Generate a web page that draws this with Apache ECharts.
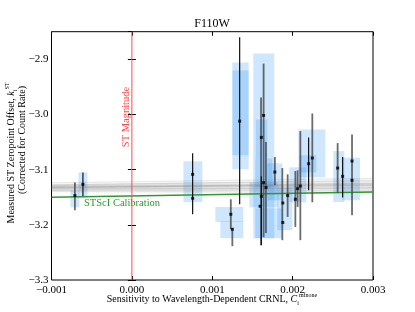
<!DOCTYPE html>
<html><head><meta charset="utf-8">
<script src="https://cdn.jsdelivr.net/npm/echarts@6/dist/echarts.min.js"></script>
<style>html,body{margin:0;padding:0;background:#fff}#c{width:415px;height:312px}</style>
</head><body><div id="c"></div>
<script>
const X_MIN = -0.001, X_MAX = 0.003, Y_MIN = -3.3, Y_MAX = -2.85;
const X_STEP = 0.001, Y_STEP = 0.1;

// measured points [x, y]
const points = [
  [-0.000709, -3.1470], [-0.000609, -3.1266],
  [0.000756, -3.1085], [0.000756, -3.1519],
  [0.001231, -3.1808], [0.001250, -3.2080],
  [0.001341, -3.0121],
  [0.001639, -3.0018], [0.001611, -3.0416], [0.001639, -3.1235], [0.001669, -3.1325],
  [0.001611, -3.1483], [0.001595, -3.1664],
  [0.001779, -3.1043], [0.001878, -3.1604], [0.001878, -3.1958], [0.001938, -3.1470],
  [0.002034, -3.1537], [0.002062, -3.1344], [0.002096, -3.1297],
  [0.002199, -3.0892], [0.002245, -3.0790],
  [0.002560, -3.0971], [0.002622, -3.1121], [0.002739, -3.0844], [0.002739, -3.1193]
];

// uncertainty boxes [x0, x1, y0, y1]
const boxes = [
  [-0.000765, -0.000653, -3.1374, -3.1682],
  [-0.000665, -0.000553, -3.1049, -3.1501],
  [0.000641, 0.000877, -3.0850, -3.1591],
  [0.001039, 0.001387, -3.1676, -3.1948],
  [0.001101, 0.001387, -3.1935, -3.2242],
  [0.001250, 0.001453, -2.9060, -3.0741],
  [0.001250, 0.001453, -2.9204, -3.0995],
  [0.001511, 0.001772, -2.8897, -3.2242],
  [0.001542, 0.001685, -3.0090, -3.0796],
  [0.001536, 0.001748, -3.0796, -3.1320],
  [0.001685, 0.001872, -3.0886, -3.1555],
  [0.001461, 0.001822, -3.1230, -3.1682],
  [0.001536, 0.001872, -3.1700, -3.2242],
  [0.001810, 0.001996, -3.1320, -3.2098],
  [0.001959, 0.002170, -3.0958, -3.1591],
  [0.002071, 0.002407, -3.0271, -3.1139],
  [0.002083, 0.002295, -3.0741, -3.1049],
  [0.002506, 0.002643, -3.0664, -3.1586],
  [0.002618, 0.002838, -3.0783, -3.1555]
];

// error bars [x, yTop, yBottom, style(1 = black, 0 = grey)]
const errbars = [
  [-0.000709, -3.1230, -3.1736, 0],
  [-0.000609, -3.1054, -3.1477, 1],
  [0.000756, -3.0705, -3.1808, 1],
  [0.001231, -3.1537, -3.2080, 0],
  [0.001250, -3.2062, -3.2387, 0],
  [0.001341, -2.8602, -3.1627, 1],
  [0.001607, -2.9693, -3.2369, 0],
  [0.001611, -3.1121, -3.2369, 1],
  [0.001639, -2.9078, -3.2224, 0],
  [0.001668, -3.0501, -3.2146, 0],
  [0.001779, -3.0772, -3.1284, 0],
  [0.001872, -3.0971, -3.2278, 0],
  [0.001938, -3.1085, -3.1857, 0],
  [0.002034, -3.1025, -3.2038, 0],
  [0.002062, -3.1013, -3.1676, 0],
  [0.002096, -3.0302, -3.2278, 0],
  [0.002199, -3.0416, -3.1374, 1],
  [0.002245, -2.9982, -3.1591, 0],
  [0.002560, -3.0519, -3.1423, 0],
  [0.002622, -3.0772, -3.1506, 1],
  [0.002739, -3.0362, -3.1826, 0]
];

// posterior fit lines: value at left edge and right edge
const bandLeft  = [-3.124, -3.127, -3.129, -3.130, -3.131, -3.133, -3.132, -3.134, -3.135, -3.136, -3.133, -3.138, -3.128, -3.131, -3.137, -3.140];
const bandRight = [-3.116, -3.121, -3.124, -3.126, -3.127, -3.130, -3.128, -3.132, -3.134, -3.133, -3.125, -3.138, -3.119, -3.129, -3.136, -3.141];

// STScI calibration line
const calibLine = [[X_MIN, -3.1500], [X_MAX, -3.1405]];
const stMagLine = [[0, Y_MIN], [0, Y_MAX]];

const SERIF = '"Liberation Serif","DejaVu Serif",serif';
const minus = s => s.replace('-', '\u2212');
const fmtX = v => { if (Math.abs(v) < 1e-12) v = 0; return minus(v.toFixed(3)); };
const fmtY = v => Math.abs(v * 10 - Math.round(v * 10)) < 1e-6 ? minus(v.toFixed(1)) : '';

const chart = echarts.init(document.getElementById('c'), null, {renderer: 'canvas'});

const baseX = {type: 'value', min: X_MIN, max: X_MAX, interval: X_STEP, splitLine: {show: false},
  axisLine: {show: false}, axisTick: {inside: true, length: 4, lineStyle: {color: '#000', width: 1}}};
const baseY = {type: 'value', min: Y_MIN, max: Y_MAX, interval: Y_STEP, splitLine: {show: false},
  axisLine: {show: false}, axisTick: {inside: true, length: 4, lineStyle: {color: '#000', width: 1}}};

chart.setOption({
  animation: false,
  grid: {left: 51.5, right: 42, top: 31.7, bottom: 32, show: true, borderColor: '#000', borderWidth: 1, backgroundColor: 'transparent'},
  xAxis: [
    Object.assign({}, baseX, {position: 'bottom', axisLabel: {formatter: fmtX, color: '#000', fontFamily: SERIF, fontSize: 11, margin: 5}}),
    Object.assign({}, baseX, {position: 'top', axisLabel: {show: false}})
  ],
  yAxis: [
    Object.assign({}, baseY, {position: 'left', axisLabel: {formatter: fmtY, color: '#000', fontFamily: SERIF, fontSize: 11, margin: 3, showMaxLabel: false}}),
    Object.assign({}, baseY, {position: 'right', axisLabel: {show: false}})
  ],
  series: [
    {
      type: 'custom', name: 'boxes', z: 1,
      data: boxes, encode: {x: [0, 1], y: [2, 3]},
      renderItem: (params, api) => {
        const p0 = api.coord([api.value(0), api.value(2)]);
        const p1 = api.coord([api.value(1), api.value(3)]);
        return {type: 'rect', shape: {x: Math.min(p0[0], p1[0]), y: Math.min(p0[1], p1[1]),
          width: Math.abs(p1[0] - p0[0]), height: Math.abs(p1[1] - p0[1])},
          style: {fill: 'rgba(30,140,250,0.22)'}};
      }
    },
    {
      type: 'custom', name: 'band', z: 2,
      data: bandLeft.map((l, i) => [X_MIN, X_MAX, l, bandRight[i]]), encode: {x: [0, 1], y: [2, 3]},
      renderItem: (params, api) => {
        const p0 = api.coord([api.value(0), api.value(2)]);
        const p1 = api.coord([api.value(1), api.value(3)]);
        return {type: 'line', shape: {x1: p0[0], y1: p0[1], x2: p1[0], y2: p1[1]},
          style: {stroke: 'rgba(110,110,110,0.16)', lineWidth: 1.3}};
      }
    },
    {type: 'line', name: 'calib', z: 3, data: calibLine, symbol: 'none', lineStyle: {color: '#2e9a2e', width: 1.3}},
    {type: 'line', name: 'stmag', z: 3, data: stMagLine, symbol: 'none', lineStyle: {color: '#ff4a4a', width: 1}},
    {
      type: 'custom', name: 'errbars', z: 4,
      data: errbars, encode: {x: 0, y: [1, 2]},
      renderItem: (params, api) => {
        const p0 = api.coord([api.value(0), api.value(1)]);
        const p1 = api.coord([api.value(0), api.value(2)]);
        const dark = api.value(3) === 1;
        return {type: 'line', shape: {x1: p0[0], y1: p0[1], x2: p1[0], y2: p1[1]},
          style: {stroke: dark ? '#111' : 'rgba(70,70,70,0.8)', lineWidth: dark ? 1.2 : 1.8}};
      }
    },
    {type: 'scatter', name: 'points', z: 5, data: points, symbol: 'rect', symbolSize: 3, itemStyle: {color: '#000'}}
  ],
  graphic: [
    {type: 'text', x: 212, y: 24, style: {text: 'F110W', font: '12px ' + SERIF, fill: '#000', align: 'center', verticalAlign: 'middle'}},
    {type: 'text', x: 212, y: 299, style: {
      text: '{t|Sensitivity to Wavelength-Dependent CRNL, }{c|C}{sub|i}{sup|mfnone}',
      align: 'center', verticalAlign: 'middle',
      rich: {
        t: {fontFamily: SERIF, fontSize: 10, fill: '#000', lineHeight: 14},
        c: {fontFamily: SERIF, fontSize: 10, fontStyle: 'italic', fill: '#000', lineHeight: 14},
        sub: {fontFamily: SERIF, fontSize: 6, fill: '#000', verticalAlign: 'bottom', lineHeight: 14},
        sup: {fontFamily: SERIF, fontSize: 6, fill: '#000', verticalAlign: 'top', lineHeight: 14}
      }}},
    {type: 'text', x: 11.5, y: 153, rotation: Math.PI / 2, style: {
      text: '{t|Measured ST Zeropoint Offset, }{k|k}{sub|i}{sup|ST}',
      align: 'center', verticalAlign: 'middle',
      rich: {
        t: {fontFamily: SERIF, fontSize: 10, fill: '#000', lineHeight: 14},
        k: {fontFamily: SERIF, fontSize: 10, fontStyle: 'italic', fill: '#000', lineHeight: 14},
        sub: {fontFamily: SERIF, fontSize: 6, fill: '#000', verticalAlign: 'bottom', lineHeight: 14},
        sup: {fontFamily: SERIF, fontSize: 6, fill: '#000', verticalAlign: 'top', lineHeight: 14}
      }}},
    {type: 'text', x: 22.5, y: 140, rotation: Math.PI / 2, style: {text: '(Corrected for Count Rate)', font: '10px ' + SERIF, fill: '#000', align: 'center', verticalAlign: 'middle'}},
    {type: 'text', x: 126, y: 117, rotation: Math.PI / 2, style: {text: 'ST Magnitude', font: '10.5px ' + SERIF, fill: '#ff4a4a', align: 'center', verticalAlign: 'middle'}},
    {type: 'text', x: 84, y: 203.5, style: {text: 'STScI Calibration', font: '10.5px ' + SERIF, fill: '#2e9a2e', align: 'left', verticalAlign: 'middle'}}
  ]
});
</script>
</body></html>
